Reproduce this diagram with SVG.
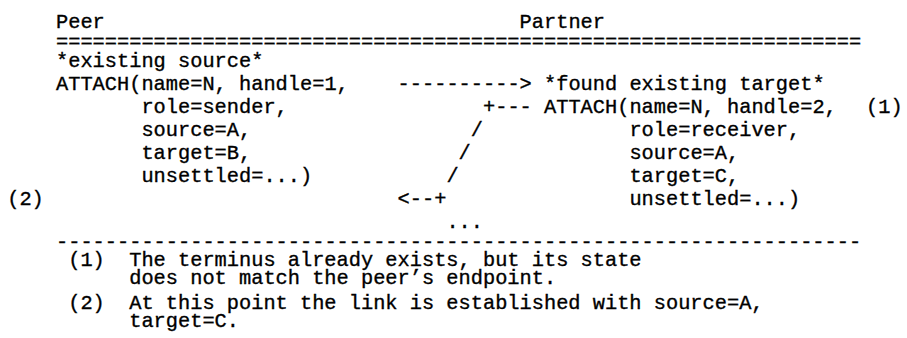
<svg xmlns="http://www.w3.org/2000/svg" width="907" height="338" viewBox="0 0 907 338">
<style>
  text { font-family: "Liberation Mono", "DejaVu Sans Mono", monospace; font-size: 20.33px; fill: #000; stroke: #000; stroke-width: 0.35px; white-space: pre; }
</style>
<rect x="0" y="0" width="907" height="338" fill="#fff"/>
<g id="header">
  <text x="56" y="28">Peer</text>
  <text x="519.6" y="28">Partner</text>
  <text x="56" y="48">==================================================================</text>
</g>
<g id="peer">
  <text x="56" y="67">*existing source*</text>
  <text x="56" y="90">ATTACH(name=N, handle=1,</text>
  <text x="141.4" y="113">role=sender,</text>
  <text x="141.4" y="136">source=A,</text>
  <text x="141.4" y="159">target=B,</text>
  <text x="141.4" y="182">unsettled=...)</text>
  <text x="7.2" y="205">(2)</text>
</g>
<g id="partner">
  <text x="544" y="90">*found existing target*</text>
  <text x="544" y="113">ATTACH(name=N, handle=2,</text>
  <text x="866" y="113">(1)</text>
  <text x="629.4" y="136">role=receiver,</text>
  <text x="629.4" y="159">source=A,</text>
  <text x="629.4" y="182">target=C,</text>
  <text x="629.4" y="205">unsettled=...)</text>
</g>
<g id="connectors">
  <text x="397.6" y="90">----------&gt;</text>
  <text x="483" y="113">+---</text>
  <text x="470.8" y="136">/</text>
  <text x="458.6" y="159">/</text>
  <text x="446.4" y="182">/</text>
  <text x="397.6" y="205">&lt;--+</text>
  <text x="446.4" y="228">...</text>
</g>
<g id="notes">
  <text x="56" y="248">------------------------------------------------------------------</text>
  <text x="68.2" y="266">(1)</text>
  <text x="129.2" y="266">The terminus already exists, but its state</text>
  <text x="129.2" y="284">does not match the peer’s endpoint.</text>
  <text x="68.2" y="309">(2)</text>
  <text x="129.2" y="309">At this point the link is established with source=A,</text>
  <text x="129.2" y="327">target=C.</text>
</g>
</svg>
